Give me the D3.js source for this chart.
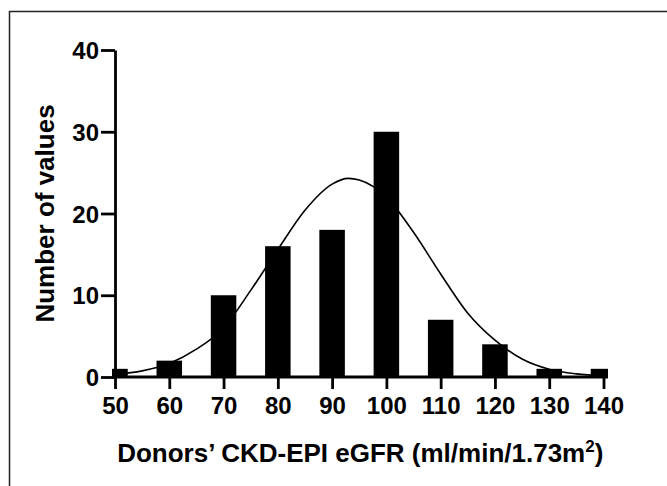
<!DOCTYPE html>
<html>
<head>
<meta charset="utf-8">
<script src="https://cdn.jsdelivr.net/npm/d3@7"></script>
<style>
  body { margin: 0; background: #fff; }
  text { font-family: "Liberation Sans", Arial, sans-serif; font-weight: bold; fill: #000; }
</style>
</head>
<body>
<div class="chart"></div>
<script>
// histogram bins (bin centre) and counts
var binCenters = [50, 60, 70, 80, 90, 100, 110, 120, 130, 140];
var counts = [1, 2, 10, 16, 18, 30, 7, 4, 1, 1];
var yTicks = [0, 10, 20, 30, 40];
var xTicks = [50, 60, 70, 80, 90, 100, 110, 120, 130, 140];

// fitted gaussian, points
var fitX = [50, 55, 60, 65, 70, 75, 80, 85, 90, 93, 95, 100, 105, 110, 115, 120, 125, 130, 135, 140];
var fitY = [0.3, 0.75, 1.65, 3.4, 6.0, 10.6, 15.6, 20.4, 23.6, 24.3, 24.1, 22.0, 17.7, 12.6, 7.8, 4.5, 2.2, 0.95, 0.38, 0.13];

var W = 667, H = 486;
var barW = 4.7; // in x units

var x = d3.scaleLinear().domain([50, 140]).range([115, 603.5]);
var y = d3.scaleLinear().domain([0, 40]).range([377, 50]);

var svg = d3.select(".chart").append("svg").attr("width", W).attr("height", H);

// outer frame
svg.append("rect")
    .attr("x", 9.5).attr("y", 11.5)
    .attr("width", W).attr("height", H)
    .attr("fill", "none").attr("stroke", "#222").attr("stroke-width", 1.5);

svg.append("clipPath").attr("id", "plot")
  .append("rect").attr("x", 112).attr("y", 40).attr("width", 496).attr("height", 340);

// bars
svg.append("g").attr("clip-path", "url(#plot)")
  .selectAll(".bar")
  .data(binCenters)
  .enter().append("rect")
    .attr("class", "bar")
    .attr("x", function(d) { return x(d - barW / 2); })
    .attr("width", function(d) { return x(d + barW / 2) - x(d - barW / 2); })
    .attr("y", function(d, i) { return y(counts[i]); })
    .attr("height", function(d, i) { return y(0) - y(counts[i]); })
    .attr("fill", "#000");

// fit curve
var line = d3.line()
    .x(function(d) { return x(d[0]); })
    .y(function(d) { return y(d[1]); })
    .curve(d3.curveMonotoneX);
svg.append("path")
    .datum(d3.zip(fitX, fitY))
    .attr("d", line)
    .attr("fill", "none").attr("stroke", "#000").attr("stroke-width", 1.6);

// axes
var xAxis = d3.axisBottom(x).tickValues(xTicks).tickSize(12).tickSizeOuter(0).tickPadding(8);
var yAxis = d3.axisLeft(y).tickValues(yTicks).tickSize(14).tickSizeOuter(0).tickPadding(2);

var gx = svg.append("g").attr("transform", "translate(0," + y(0) + ")").call(xAxis);
var gy = svg.append("g").attr("transform", "translate(" + x(50) + ",0)").call(yAxis);

gx.select(".domain").attr("d", "M112,0H608");
[gx, gy].forEach(function(g) {
  g.selectAll("path, line").attr("stroke", "#000").attr("stroke-width", 2.8);
  g.selectAll("text").style("font-size", "24px").attr("fill", "#000");
});
gy.selectAll("text").attr("dy", "0.36em");

// axis titles
svg.append("text")
    .attr("transform", "translate(54," + ((y(0) + y(40)) / 2) + ") rotate(-90)")
    .attr("text-anchor", "middle")
    .style("font-size", "26px")
    .text("Number of values");

var t = svg.append("text")
    .attr("x", (x(50) + x(140)) / 2 + 1)
    .attr("y", 462)
    .attr("text-anchor", "middle")
    .style("font-size", "26px");
t.append("tspan").text("Donors\u2019 CKD-EPI eGFR (ml/min/1.73m");
t.append("tspan").attr("dy", "-10").style("font-size", "17px").text("2");
t.append("tspan").attr("dy", "10").text(")");
</script>
</body>
</html>
